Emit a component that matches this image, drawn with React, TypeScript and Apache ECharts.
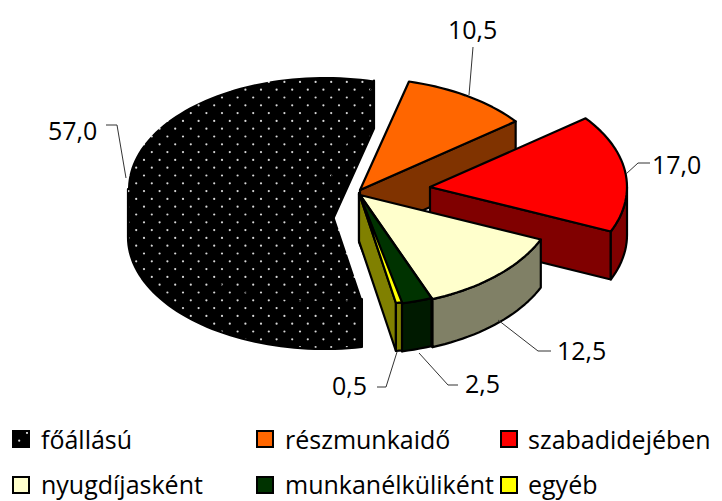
import React, { useEffect, useRef } from "react";
import * as echarts from "echarts";

const categories = ["főállású", "részmunkaidő", "szabadidejében", "nyugdíjasként", "munkanélküliként", "egyéb"];
const values = [57.0, 10.5, 17.0, 12.5, 2.5, 0.5];

const topColors = ["#000000", "#FF6600", "#FF0000", "#FFFFCC", "#003300", "#FFFF00"];
const sideColors = ["#000000", "#803300", "#800000", "#808066", "#001A00", "#808000"];

// layout (pixels) of the tilted, exploded pie
const START_ANGLE = 169.2;
const RX = 197;
const RY = 112;
const DEPTH = 48;
const apexes = [[325, 189], [360, 190], [430, 187], [360, 195], [359, 194], [359, 193]];
const labelAnchors = [[48, 140], [448, 39], [652, 174], [557, 360], [465, 393], [332, 395]];
const leaders = [
  [[106, 125], [117, 125], [126, 178]],
  [[473, 47], [469, 95]],
  [[650, 163], [638, 163], [626, 174]],
  [[551, 351], [538, 351], [498, 320]],
  [[458, 385], [448, 385], [419, 353]],
  [[377, 387], [386, 387], [397, 352]],
];
const legendSwatchX = [13, 257, 501, 13, 257, 501];
const legendTextX = [41, 285, 528, 41, 285, 528];
const legendRowY = [431, 431, 431, 477, 477, 477];
const legendBaseline = [449, 449, 449, 493.5, 493.5, 493.5];

const VALUE_FONT = '25px "Open Sans", sans-serif';
const LEGEND_FONT = '25px "Open Sans", sans-serif';
const BASELINE_SHIFT = 9.7;

function makeDotPattern(): any {
  // five tiles of the 15.6px dot lattice, so that the tile has a whole size
  const size = 78;
  const canvas = document.createElement("canvas");
  canvas.width = size;
  canvas.height = size;
  const ctx = canvas.getContext("2d")!;
  ctx.fillStyle = "#000000";
  ctx.fillRect(0, 0, size, size);
  ctx.fillStyle = "rgba(255,255,255,0.85)";
  for (let r = 0; r < 10; r++) {
    for (let c = 0; c < 5; c++) {
      const x = 3.6 + c * 15.6 + (r % 2 ? 7.8 : 0);
      const y = 3.9 + r * 7.8;
      ctx.beginPath();
      ctx.arc(x % size, y, 1.1, 0, Math.PI * 2);
      ctx.fill();
    }
  }
  return { type: "pattern", image: canvas, repeat: "repeat", imageWidth: size, imageHeight: size };
}

const rad = (d: number) => (d * Math.PI) / 180;
const pt = (apex: number[], t: number, dy = 0) => [
  apex[0] + RX * Math.sin(rad(t)),
  apex[1] - RY * Math.cos(rad(t)) + dy,
];
const arc = (apex: number[], t0: number, t1: number, dy = 0) => {
  const n = Math.max(2, Math.ceil(Math.abs(t1 - t0) / 2));
  const out: number[][] = [];
  for (let i = 0; i <= n; i++) out.push(pt(apex, t0 + ((t1 - t0) * i) / n, dy));
  return out;
};

const total = values.reduce((a, b) => a + b, 0);

export default function App() {
  const ref = useRef<HTMLDivElement>(null);
  useEffect(() => {
    const chart = echarts.init(ref.current!, undefined, { renderer: "svg" });
    const dotPattern = makeDotPattern();

    const renderSlice = (params: any, api: any) => {
      const i = params.dataIndex;
      const before = values.slice(0, i).reduce((a, b) => a + b, 0);
      const t0 = START_ANGLE + (before / total) * 360;
      const t1 = t0 + (api.value(0) / total) * 360;
      const apex = apexes[i];
      const below = [apex[0], apex[1] + DEPTH];
      const stroke = { stroke: "#000", lineWidth: 2.2, lineJoin: "round" };
      const children: any[] = [];
      const side = { ...stroke, fill: i === 0 ? dotPattern : sideColors[i] };

      // visible cut faces
      if (Math.sin(rad(t0)) < 0) {
        children.push({ type: "polygon", shape: { points: [apex, pt(apex, t0), pt(apex, t0, DEPTH), below] }, style: side });
      }
      if (Math.sin(rad(t1)) > 0) {
        children.push({ type: "polygon", shape: { points: [apex, pt(apex, t1), pt(apex, t1, DEPTH), below] }, style: side });
      }
      // visible outer wall: the front half of the rim
      for (const [lo, hi] of [[90, 270], [450, 630]]) {
        const a = Math.max(t0, lo);
        const b = Math.min(t1, hi);
        if (b > a) {
          children.push({
            type: "polygon",
            shape: { points: [...arc(apex, a, b), ...arc(apex, b, a, DEPTH)] },
            style: side,
          });
        }
      }
      // top face
      children.push({
        type: "polygon",
        shape: { points: [apex, ...arc(apex, t0, t1)] },
        style: i === 0 ? { fill: dotPattern } : { ...stroke, fill: topColors[i] },
      });
      // leader and value label
      children.push({
        type: "polyline",
        shape: { points: leaders[i] },
        style: { stroke: "#333", lineWidth: 1, fill: "none" },
      });
      children.push({
        type: "text",
        style: {
          text: api.value(0).toFixed(1).replace(".", ","),
          x: labelAnchors[i][0],
          y: labelAnchors[i][1] - BASELINE_SHIFT,
          font: VALUE_FONT,
          fill: "#000",
          align: "left",
          verticalAlign: "middle",
        },
      });
      return { type: "group", children };
    };

    const legend: any[] = [];
    categories.forEach((c, i) => {
      legend.push({
        type: "rect",
        shape: { x: legendSwatchX[i], y: legendRowY[i], width: 16, height: 16 },
        style: { fill: i === 0 ? dotPattern : topColors[i], stroke: "#000", lineWidth: 2 },
      });
      legend.push({
        type: "text",
        style: {
          text: c,
          x: legendTextX[i],
          y: legendBaseline[i] - BASELINE_SHIFT,
          font: LEGEND_FONT,
          fill: "#000",
          align: "left",
          verticalAlign: "middle",
        },
      });
    });
    chart.setOption({
      animation: false,
      backgroundColor: "#ffffff",
      graphic: legend,
      series: [
        {
          type: "custom",
          coordinateSystem: "none",
          silent: true,
          clip: false,
          renderItem: renderSlice,
          data: values.map((v, i) => ({ name: categories[i], value: [v] })),
        },
      ],
    });
    return () => chart.dispose();
  }, []);
  return (
    <div
      ref={ref}
      style={{ position: "absolute", left: 0, top: 0, width: 722, height: 501 }}
    />
  );
}
